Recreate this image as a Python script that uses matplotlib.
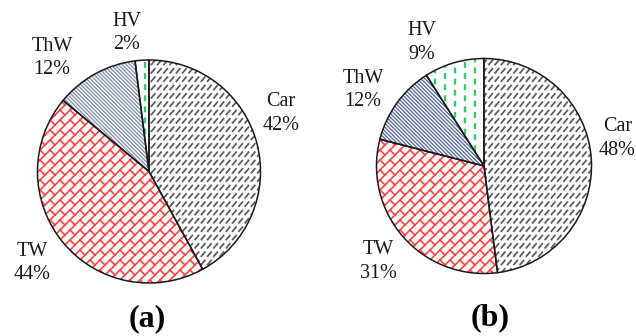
import numpy as np
import matplotlib
matplotlib.use("Agg")
import matplotlib.pyplot as plt
import matplotlib.hatch as mhatch
from matplotlib.path import Path

# ---------------- data ----------------
categories = ["Car", "TW", "ThW", "HV"]
shares_a = [42, 44, 12, 2]
shares_b = [48, 31, 12, 9]
panel_titles = ["(a)", "(b)"]

# ---------------- styles ----------------
hatch_chars = ["/", "+", "\\", "|"]
hatch_colors_a = ["#5e5e5e", "#ff4444", "#8894b2", "#33cc6c"]
hatch_colors_b = ["#5e5e5e", "#ff4444", "#5f6fa2", "#33cc6c"]
hatch_lws = [1.3, 1.2, 1.0, 1.7]


# ---------------- custom hatch patterns (unit cell = 1 inch) ----------------
class _SegHatch:
    char = None

    def __init__(self, hatch, density):
        on = bool(hatch) and (self.char in hatch)
        self.segs = np.asarray(self.make(), float) if on else np.empty((0, 2, 2))
        self.num_vertices = len(self.segs) * 2

    def make(self):
        return []

    def set_vertices_and_codes(self, vertices, codes):
        vertices[0::2] = self.segs[:, 0]
        vertices[1::2] = self.segs[:, 1]
        codes[0::2] = Path.MOVETO
        codes[1::2] = Path.LINETO


class DashDiagHatch(_SegHatch):  # short "/" dashes in rows
    char = "/"

    def make(self):
        segs = []
        rows, cols = 12, 16
        for j in range(rows):
            y = (j + 0.5) / rows
            for i in range(cols):
                x = (i + 0.5) / cols
                segs.append([(x - 0.017, y - 0.02), (x + 0.017, y + 0.02)])
        return segs


class BrickHatch(_SegHatch):  # diagonal brick
    char = "+"

    def make(self):
        segs = []
        n, m = 10, 5
        for k in range(-n, n + 1):
            a = k / n
            segs.append([(a - 1.5, -1.5), (a + 2.5, 2.5)])
        for k in range(-n, n):
            a0, a1 = k / n, (k + 1) / n
            for j in range(-1, 2 * m + 2):
                b = (j + 0.5 * (k % 2)) / m
                segs.append([((a0 + b) / 2, (b - a0) / 2), ((a1 + b) / 2, (b - a1) / 2)])
        return segs


class StripeHatch(_SegHatch):  # dense "\" stripes
    char = "\\"

    def make(self):
        segs = []
        N = 26
        for i in range(0, 2 * N + 1):
            c = i / N
            segs.append([(c + 1.5, -1.5), (-1.5, c + 1.5)])
        return segs


class DashVertHatch(_SegHatch):  # staggered vertical dashes
    char = "|"

    def make(self):
        segs = []
        cols, per = 10, 9
        for i in range(cols):
            x = (i + 0.5) / cols
            for j in range(-1, per + 1):
                y0 = (j + 0.5 * (i % 2)) / per
                segs.append([(x, y0), (x, y0 + 0.035)])
        return segs


mhatch._hatch_types[:] = [DashDiagHatch, BrickHatch, StripeHatch, DashVertHatch]

# ---------------- figure ----------------
plt.rcParams["font.family"] = ["Liberation Serif", "DejaVu Serif"]
fig = plt.figure(figsize=(6.36, 3.36), dpi=100)
ax = fig.add_axes([0, 0, 1, 1])

W, H = 636, 336
pies = [
    dict(shares=shares_a, colors=hatch_colors_a, center=(149, H - 171.5), r=111.5,
         offsets=[(1.184, 0.52), (-1.049, -0.821), (-0.87, 1.018), (-0.197, 1.242)],
         title_xy=(147.5, H - 319)),
    dict(shares=shares_b, colors=hatch_colors_b, center=(484, H - 166), r=107.5,
         offsets=[(1.242, 0.256), (-0.986, -0.888), (-1.126, 0.707), (-0.577, 1.149)],
         title_xy=(490, H - 318)),
]

for p, title in zip(pies, panel_titles):
    wedges, _ = ax.pie(p["shares"], startangle=90, counterclock=False,
                       center=p["center"], radius=p["r"],
                       wedgeprops=dict(facecolor="white", linewidth=0))
    for w, hc, hch, hlw in zip(wedges, p["colors"], hatch_chars, hatch_lws):
        w.set_edgecolor(hc)
        w.set_hatch(hch)
        if hasattr(w, "_hatch_linewidth"):
            w._hatch_linewidth = hlw
    ax.pie(p["shares"], startangle=90, counterclock=False,
           center=p["center"], radius=p["r"],
           wedgeprops=dict(fill=False, edgecolor="#1a1a1a", linewidth=1.1))
    cx, cy = p["center"]
    for cat, val, (ox, oy) in zip(categories, p["shares"], p["offsets"]):
        ax.text(cx + ox * p["r"], cy + oy * p["r"], f"{cat}\n{val}%",
                ha="center", va="center", fontsize=14.5, linespacing=1.3,
                color="#1a1a1a")
    ax.text(p["title_xy"][0], p["title_xy"][1], title, ha="center", va="center",
            fontsize=23, fontweight="bold", color="black")

ax.set_xlim(0, W)
ax.set_ylim(0, H)
ax.set_aspect("auto")
ax.axis("off")

fig.savefig("out.png", dpi=100)
